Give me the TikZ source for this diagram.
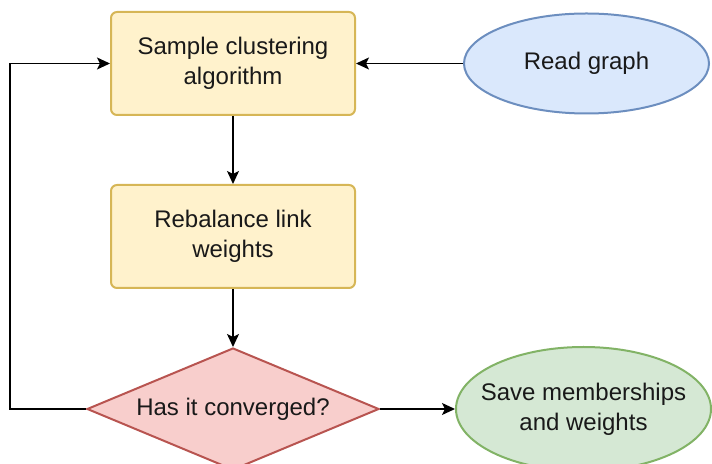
\documentclass[tikz,border=0pt]{standalone}
\usepackage{fontspec}
\setmainfont{Liberation Sans}
\usetikzlibrary{shapes.geometric, arrows.meta, positioning}
\usepackage{xcolor}
\definecolor{yelfill}{HTML}{FFF2CC}
\definecolor{yeldraw}{HTML}{D6B656}
\definecolor{redfill}{HTML}{F8CECC}
\definecolor{reddraw}{HTML}{B85450}
\definecolor{bluefill}{HTML}{DAE8FC}
\definecolor{bluedraw}{HTML}{6C8EBF}
\definecolor{grnfill}{HTML}{D5E8D4}
\definecolor{grndraw}{HTML}{82B366}
\tikzstyle{pbox} = [%
  rectangle,
  rounded corners=3pt,
  draw=yeldraw,
  fill=yelfill,
  line width=1pt,
  minimum width=122pt,
  minimum height=51.5pt,
  inner sep=2pt
]
\tikzstyle{dbox} = [%
  diamond,
  aspect=2.4,
  draw=reddraw,
  fill=redfill,
  line width=1pt,
  minimum width=146pt,
  minimum height=61pt,
  inner sep=0pt
]
\tikzstyle{ebox} = [%
  ellipse,
  line width=1pt,
  inner xsep=-10pt,
  inner ysep=0pt
]

\begin{document}
\begin{tikzpicture}[%
  >={Stealth[length=6.5pt,width=6pt,inset=1.5pt]},
  every node/.style={%
    font=\fontsize{12}{15}\selectfont,
    text=black!90,
    text centered,
    align=center
  },
  flow/.style={->,line width=0.7pt}
]
  \useasboundingbox (0,0) rectangle (356pt,-232pt);

  % Nodes
  \node[pbox] (sample) at (116.5pt,-31.75pt) {Sample clustering\\algorithm};
  \node[pbox,below=34pt of sample] (rebal) {Rebalance link\\weights};
  \node[dbox,below=29pt of rebal] (conv) {Has it converged?};
  \node[ebox,draw=bluedraw,fill=bluefill,minimum width=122.5pt,minimum height=50pt,right=53.5pt of sample] (read) {Read graph};
  \node[ebox,draw=grndraw,fill=grnfill,minimum width=127.5pt,minimum height=62pt,right=37.5pt of conv] (save) {Save memberships\\and weights};

  % Flow edges
  \draw[flow] (read) -- (sample);
  \draw[flow] (sample) -- (rebal);
  \draw[flow] (rebal) -- (conv);
  \draw[flow] (conv) -- (save);

  % Loop back
  \draw[flow] (conv.west) -- ++(-38pt,0) |- (sample.west);

\end{tikzpicture}
\end{document}
